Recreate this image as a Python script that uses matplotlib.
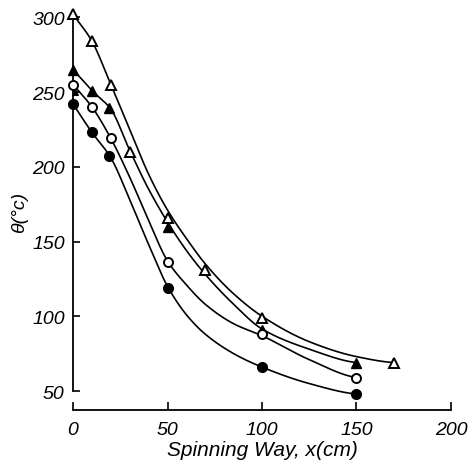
import numpy as np
import matplotlib
matplotlib.use("Agg")
import matplotlib.pyplot as plt

# ---- data ----
# smooth curves
curve_a_x = [0, 10, 20, 30, 40, 50, 60, 70, 85, 100, 125, 150, 170]
curve_a_y = [302, 284, 255, 225, 195, 171, 152, 135, 115, 100, 83, 73, 69]
curve_b_x = [0, 10, 20, 30, 40, 50, 60, 70, 85, 100, 125, 150]
curve_b_y = [265, 251, 238.5, 211, 185, 163, 144, 128, 108, 91.5, 78, 69]
curve_c_x = [0, 10, 20, 30, 40, 50, 60, 70, 85, 100, 125, 150]
curve_c_y = [255, 240, 219, 193, 164, 137, 121, 108, 95, 87, 71, 59]
curve_d_x = [0, 10, 20, 30, 40, 50, 60, 70, 85, 100, 125, 150]
curve_d_y = [242, 223, 206, 178, 148, 120, 101, 88, 75, 66, 55, 48]

# plotted symbols
open_tri_x = [0, 10, 20, 30, 50, 70, 100, 170]
open_tri_y = [302, 284, 255, 210, 166, 131, 99, 69]
filled_tri_x = [0, 10, 19, 50, 100, 150]
filled_tri_y = [265, 251, 239, 160, 91, 69]
small_tri_x = [1]
small_tri_y = [250]
open_circ_x = [0, 10, 20, 50, 100, 150]
open_circ_y = [255, 240, 219, 136, 88, 59]
filled_circ_x = [0, 10, 19, 50, 100, 150]
filled_circ_y = [242, 223, 207, 119, 66, 48]

x_ticks = [0, 50, 100, 150, 200]
y_ticks = [50, 100, 150, 200, 250, 300]


def pchip(x, y, n=500):
    x = np.asarray(x, float)
    y = np.asarray(y, float)
    h = np.diff(x)
    d = np.diff(y) / h
    m = np.zeros_like(y)
    for k in range(1, len(x) - 1):
        if d[k - 1] * d[k] > 0:
            w1 = 2 * h[k] + h[k - 1]
            w2 = h[k] + 2 * h[k - 1]
            m[k] = (w1 + w2) / (w1 / d[k - 1] + w2 / d[k])
    m[0] = d[0]
    m[-1] = d[-1] * 0.4
    xs = np.linspace(x[0], x[-1], n)
    k = np.clip(np.searchsorted(x, xs, side="right") - 1, 0, len(x) - 2)
    t = (xs - x[k]) / h[k]
    h00 = 2 * t**3 - 3 * t**2 + 1
    h10 = t**3 - 2 * t**2 + t
    h01 = -2 * t**3 + 3 * t**2
    h11 = t**3 - t**2
    ys = h00 * y[k] + h10 * h[k] * m[k] + h01 * y[k + 1] + h11 * h[k] * m[k + 1]
    return xs, ys


plt.rcParams['font.family'] = ['Liberation Sans', 'DejaVu Sans']

fig = plt.figure(figsize=(4.73, 4.64), dpi=100)
ax = fig.add_axes([0.1344, 0.1142, 0.859, 0.8787])
ax.set_xlim(-5, 210)
ax.set_ylim(37.3, 310)

lw = 1.2
for cx, cy in [(curve_a_x, curve_a_y), (curve_b_x, curve_b_y),
               (curve_c_x, curve_c_y), (curve_d_x, curve_d_y)]:
    xs, ys = pchip(cx, cy)
    ax.plot(xs, ys, color='black', lw=lw, zorder=2)

ax.plot(open_tri_x, open_tri_y, ls='none', marker='^', ms=7, mfc='white',
        mec='black', mew=1.4, zorder=3)
ax.plot(filled_tri_x, filled_tri_y, ls='none', marker='^', ms=6.5, mfc='black',
        mec='black', mew=1.0, zorder=3)
ax.plot(small_tri_x, small_tri_y, ls='none', marker='^', ms=4.5, mfc='black',
        mec='black', mew=0.8, zorder=3)
ax.plot(open_circ_x, open_circ_y, ls='none', marker='o', ms=6.5, mfc='white',
        mec='black', mew=1.4, zorder=3)
ax.plot(filled_circ_x, filled_circ_y, ls='none', marker='o', ms=7, mfc='black',
        mec='black', mew=1.0, zorder=3)

for s in ['top', 'right']:
    ax.spines[s].set_visible(False)
ax.spines['left'].set_position(('data', 0))
ax.spines['left'].set_bounds(50, 302)
ax.spines['bottom'].set_bounds(0, 200)
ax.spines['left'].set_linewidth(1.3)
ax.spines['bottom'].set_linewidth(1.3)

ax.set_xticks(x_ticks)
ax.set_yticks(y_ticks)
ax.set_xticklabels([str(v) for v in x_ticks])
ax.set_yticklabels([str(v) for v in y_ticks])
ax.tick_params(axis='x', direction='in', length=6, width=1.2, pad=8,
               labelsize=14)
ax.tick_params(axis='y', direction='in', length=5, width=1.2, pad=6,
               labelsize=14)
for lab in ax.get_xticklabels() + ax.get_yticklabels():
    lab.set_fontstyle('italic')

ax.set_xlabel('Spinning Way, x(cm)', fontsize=15, fontstyle='italic')
ax.xaxis.set_label_coords((100 + 5) / 215, -0.074)
ax.set_ylabel('θ(°c)', fontsize=14, fontstyle='italic')
ax.yaxis.set_label_coords(-0.088, (464 - 212 - 53) / 407.7)

fig.savefig('out.png', dpi=100, facecolor='white')
